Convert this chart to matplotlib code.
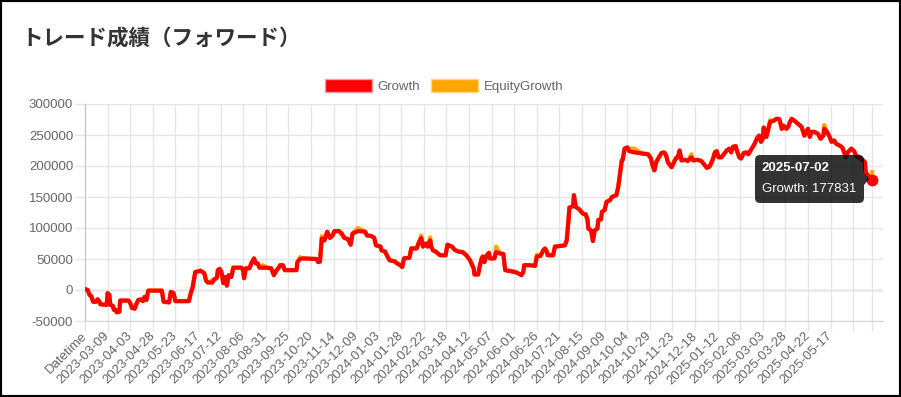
import pandas as pd
import matplotlib.pyplot as plt
from matplotlib.patches import Patch, FancyBboxPatch, Polygon, Rectangle

plt.rcParams['font.family'] = ['Liberation Sans', 'DejaVu Sans']

############## data ######################################
dates = [
    '2023-02-13', '2023-02-15', '2023-02-17', '2023-02-19', '2023-02-21', '2023-02-24', '2023-02-26', '2023-02-28', '2023-03-01', '2023-03-08',
    '2023-03-09', '2023-03-11', '2023-03-12', '2023-03-15', '2023-03-16', '2023-03-18', '2023-03-19', '2023-03-22', '2023-03-23', '2023-04-01',
    '2023-04-03', '2023-04-05', '2023-04-08', '2023-04-10', '2023-04-12', '2023-04-16', '2023-04-17', '2023-04-19', '2023-04-21', '2023-04-23',
    '2023-05-08', '2023-05-10', '2023-05-16', '2023-05-18', '2023-05-21', '2023-05-23', '2023-06-07', '2023-06-09', '2023-06-11', '2023-06-14',
    '2023-06-20', '2023-06-24', '2023-06-26', '2023-06-28', '2023-07-03', '2023-07-05', '2023-07-08', '2023-07-09', '2023-07-11', '2023-07-13',
    '2023-07-15', '2023-07-17', '2023-07-19', '2023-07-21', '2023-07-24', '2023-07-26', '2023-08-04', '2023-08-06', '2023-08-07', '2023-08-09',
    '2023-08-13', '2023-08-15', '2023-08-18', '2023-08-20', '2023-08-22', '2023-08-24', '2023-08-28', '2023-09-01', '2023-09-06', '2023-09-09',
    '2023-09-12', '2023-09-14', '2023-09-16', '2023-09-19', '2023-09-21', '2023-10-04', '2023-10-05', '2023-10-08', '2023-10-11', '2023-10-26',
    '2023-10-28', '2023-10-30', '2023-11-01', '2023-11-04', '2023-11-07', '2023-11-10', '2023-11-13', '2023-11-15', '2023-11-20', '2023-11-23',
    '2023-11-26', '2023-11-30', '2023-12-03', '2023-12-05', '2023-12-11', '2023-12-19', '2023-12-21', '2023-12-26', '2023-12-29', '2023-12-31',
    '2024-01-05', '2024-01-06', '2024-01-10', '2024-01-12', '2024-01-15', '2024-01-21', '2024-01-23', '2024-01-27', '2024-01-29', '2024-01-31',
    '2024-02-06', '2024-02-08', '2024-02-14', '2024-02-16', '2024-02-17', '2024-02-19', '2024-02-21', '2024-02-24', '2024-02-26', '2024-02-29',
    '2024-03-01', '2024-03-03', '2024-03-06', '2024-03-11', '2024-03-17', '2024-03-19', '2024-03-24', '2024-03-27', '2024-03-31', '2024-04-05',
    '2024-04-09', '2024-04-13', '2024-04-17', '2024-04-18', '2024-04-22', '2024-04-24', '2024-04-26', '2024-04-27', '2024-04-29', '2024-05-01',
    '2024-05-04', '2024-05-05', '2024-05-10', '2024-05-12', '2024-05-16', '2024-05-20', '2024-05-21', '2024-05-22', '2024-06-02', '2024-06-05',
    '2024-06-09', '2024-06-11', '2024-06-12', '2024-06-18', '2024-06-24', '2024-06-26', '2024-06-30', '2024-07-03', '2024-07-05', '2024-07-07',
    '2024-07-08', '2024-07-14', '2024-07-16', '2024-07-27', '2024-07-29', '2024-07-31', '2024-08-01', '2024-08-05', '2024-08-06', '2024-08-08',
    '2024-08-11', '2024-08-12', '2024-08-16', '2024-08-19', '2024-08-21', '2024-08-22', '2024-08-25', '2024-08-27', '2024-08-29', '2024-09-01',
    '2024-09-02', '2024-09-05', '2024-09-06', '2024-09-09', '2024-09-11', '2024-09-15', '2024-09-17', '2024-09-22', '2024-09-24', '2024-09-26',
    '2024-09-28', '2024-09-29', '2024-10-01', '2024-10-04', '2024-10-06', '2024-10-12', '2024-10-21', '2024-10-27', '2024-10-30', '2024-11-01',
    '2024-11-03', '2024-11-05', '2024-11-08', '2024-11-11', '2024-11-14', '2024-11-16', '2024-11-18', '2024-11-22', '2024-11-24', '2024-11-27',
    '2024-11-29', '2024-12-01', '2024-12-03', '2024-12-07', '2024-12-10', '2024-12-14', '2024-12-16', '2024-12-21', '2024-12-25', '2024-12-29',
    '2024-12-31', '2025-01-03', '2025-01-05', '2025-01-07', '2025-01-09', '2025-01-11', '2025-01-13', '2025-01-16', '2025-01-19', '2025-01-22',
    '2025-01-25', '2025-01-27', '2025-01-29', '2025-02-01', '2025-02-02', '2025-02-05', '2025-02-07', '2025-02-10', '2025-02-13', '2025-02-15',
    '2025-02-20', '2025-02-22', '2025-02-25', '2025-02-27', '2025-03-01', '2025-03-03', '2025-03-04', '2025-03-05', '2025-03-07', '2025-03-09',
    '2025-03-11', '2025-03-15', '2025-03-18', '2025-03-21', '2025-03-22', '2025-03-24', '2025-03-26', '2025-03-29', '2025-03-31', '2025-04-02',
    '2025-04-04', '2025-04-07', '2025-04-11', '2025-04-15', '2025-04-18', '2025-04-20', '2025-04-22', '2025-04-24', '2025-04-26', '2025-04-29',
    '2025-05-03', '2025-05-06', '2025-05-09', '2025-05-10', '2025-05-13', '2025-05-16', '2025-05-18', '2025-05-21', '2025-05-23', '2025-05-27',
    '2025-05-30', '2025-06-01', '2025-06-03', '2025-06-05', '2025-06-09', '2025-06-12', '2025-06-14', '2025-06-22', '2025-06-24', '2025-06-25',
    '2025-06-27', '2025-07-01', '2025-07-02',
]

growth = [
    1000, 0, -8000, -10000, -19000, -19000, -15000, -19000, -23000, -24000,
    -5000, -8000, -24000, -26000, -32000, -32000, -36000, -35000, -17000, -17000,
    -21000, -29000, -30000, -22000, -16000, -15000, -18000, -11000, -16000, -1000,
    -1000, -19000, -20000, -3000, -5000, -18000, -18000, -5000, 3000, 29000,
    31000, 27000, 15000, 12000, 12000, 17000, 20000, 32000, 34000, 29000,
    11000, 21000, 7000, 24000, 21000, 36000, 36000, 32000, 19000, 35000,
    35000, 43000, 51000, 43000, 43000, 36000, 36000, 36000, 35000, 24000,
    32000, 35000, 40000, 40000, 32000, 32000, 45000, 50000, 51000, 50000,
    45000, 46000, 83000, 80000, 94000, 84000, 88000, 95000, 95000, 91000,
    84000, 82000, 73000, 91000, 95000, 94000, 88000, 87000, 84000, 72000,
    70000, 64000, 62000, 56000, 48000, 46000, 43000, 40000, 37000, 51000,
    52000, 67000, 67000, 75000, 78000, 84000, 70000, 75000, 70000, 80000,
    70000, 64000, 62000, 56000, 56000, 73000, 70000, 65000, 62000, 61000,
    56000, 48000, 35000, 25000, 25000, 40000, 51000, 54000, 45000, 55000,
    60000, 51000, 51000, 61000, 59000, 58000, 43000, 32000, 29000, 27000,
    24000, 29000, 40000, 40000, 39000, 54000, 55000, 64000, 67000, 62000,
    56000, 56000, 70000, 72000, 80000, 113000, 133000, 135000, 153000, 134000,
    131000, 130000, 123000, 122000, 114000, 99000, 96000, 79000, 96000, 99000,
    113000, 114000, 126000, 129000, 142000, 145000, 150000, 153000, 166000, 188000,
    209000, 210000, 228000, 230000, 224000, 222000, 220000, 219000, 213000, 201000,
    193000, 206000, 214000, 221000, 222000, 217000, 206000, 198000, 204000, 213000,
    214000, 225000, 209000, 210000, 208000, 214000, 209000, 210000, 208000, 201000,
    197000, 199000, 205000, 212000, 222000, 224000, 214000, 214000, 219000, 225000,
    228000, 222000, 231000, 232000, 226000, 214000, 212000, 221000, 222000, 219000,
    231000, 236000, 246000, 249000, 239000, 244000, 262000, 253000, 247000, 259000,
    271000, 273000, 276000, 276000, 272000, 260000, 265000, 260000, 263000, 271000,
    276000, 273000, 268000, 263000, 249000, 255000, 260000, 247000, 255000, 255000,
    252000, 244000, 249000, 260000, 255000, 247000, 239000, 241000, 236000, 233000,
    230000, 222000, 214000, 222000, 228000, 224000, 217000, 209000, 206000, 190000,
    185000, 180000, 177831,
]

equity = [
    1000, 0, -8000, -10000, -19000, -19000, -15000, -19000, -23000, -24000,
    -5000, -8000, -24000, -26000, -32000, -32000, -36000, -35000, -17000, -17000,
    -21000, -29000, -30000, -22000, -16000, -15000, -18000, -11000, -16000, -1000,
    -1000, -19000, -20000, -3000, -5000, -18000, -18000, -5000, 6000, 29000,
    31000, 27000, 15000, 12000, 16000, 17000, 20000, 32000, 34000, 29000,
    11000, 21000, 7000, 24000, 21000, 36000, 36000, 32000, 19000, 35000,
    35000, 43000, 51000, 43000, 43000, 36000, 40000, 36000, 35000, 24000,
    32000, 35000, 40000, 40000, 32000, 32000, 45000, 53000, 51000, 50000,
    45000, 46000, 87000, 80000, 94000, 84000, 88000, 95000, 95000, 91000,
    84000, 82000, 73000, 91000, 100000, 94000, 88000, 87000, 84000, 72000,
    70000, 64000, 62000, 56000, 48000, 46000, 43000, 40000, 37000, 51000,
    52000, 67000, 67000, 75000, 78000, 88000, 70000, 75000, 70000, 85000,
    70000, 64000, 62000, 56000, 56000, 73000, 70000, 65000, 62000, 61000,
    56000, 48000, 35000, 25000, 25000, 40000, 51000, 54000, 45000, 55000,
    60000, 51000, 51000, 70000, 59000, 58000, 43000, 32000, 29000, 27000,
    24000, 29000, 40000, 40000, 39000, 57000, 55000, 64000, 67000, 62000,
    56000, 56000, 70000, 72000, 80000, 113000, 133000, 135000, 153000, 134000,
    131000, 130000, 123000, 122000, 114000, 99000, 96000, 79000, 96000, 99000,
    113000, 114000, 126000, 129000, 142000, 145000, 150000, 153000, 166000, 188000,
    209000, 210000, 228000, 230000, 228000, 228000, 220000, 219000, 213000, 201000,
    193000, 206000, 214000, 221000, 222000, 217000, 206000, 198000, 204000, 213000,
    214000, 225000, 209000, 210000, 208000, 219000, 209000, 210000, 208000, 201000,
    197000, 199000, 205000, 212000, 222000, 224000, 214000, 214000, 219000, 225000,
    228000, 222000, 231000, 232000, 226000, 214000, 212000, 221000, 222000, 219000,
    231000, 236000, 246000, 249000, 239000, 244000, 262000, 253000, 247000, 259000,
    274000, 273000, 276000, 276000, 272000, 260000, 265000, 260000, 263000, 271000,
    276000, 273000, 268000, 263000, 249000, 255000, 260000, 247000, 255000, 255000,
    252000, 244000, 249000, 266000, 255000, 247000, 239000, 241000, 236000, 233000,
    230000, 222000, 214000, 222000, 228000, 224000, 217000, 209000, 206000, 190000,
    185000, 180000, 190000,
]

tick_labels = ['Datetime', '2023-03-09', '2023-04-03', '2023-04-28', '2023-05-23', '2023-06-17',
               '2023-07-12', '2023-08-06', '2023-08-31', '2023-09-25', '2023-10-20', '2023-11-14',
               '2023-12-09', '2024-01-03', '2024-01-28', '2024-02-22', '2024-03-18', '2024-04-12',
               '2024-05-07', '2024-06-01', '2024-06-26', '2024-07-21', '2024-08-15', '2024-09-09',
               '2024-10-04', '2024-10-29', '2024-11-23', '2024-12-18', '2025-01-12', '2025-02-06',
               '2025-03-03', '2025-03-28', '2025-04-22', '2025-05-17']
hidden_ticks = ['2025-06-11', '2025-07-02']
y_ticks = [-50000, 0, 50000, 100000, 150000, 200000, 250000, 300000]
#########################################################

# category axis: the header cell, then one slot per calendar day
categories = ['Datetime'] + list(pd.date_range('2023-02-13', '2025-07-02').strftime('%Y-%m-%d'))
pos = {c: i for i, c in enumerate(categories)}
x = [pos[d] for d in dates]

W, H = 901, 397
fig = plt.figure(figsize=(W / 100, H / 100), dpi=100)
ax = fig.add_axes([85 / W, 1 - 321 / H, (883 - 85) / W, (321 - 104) / H])

ax.plot(x, equity, color='#ffa500', lw=3.0, solid_joinstyle='round', zorder=3)
ax.plot(x, growth, color='#ff0000', lw=3.0, solid_joinstyle='round', zorder=4)
ax.plot(x[-1], growth[-1], 'o', color='#ff0000', ms=7.5, zorder=5)

ax.set_xlim(0, 883)
ax.set_ylim(y_ticks[0], y_ticks[-1])
ax.set_yticks(y_ticks)
ax.set_yticklabels([str(v) for v in y_ticks])
ax.set_xticks([pos[t] for t in tick_labels])
ax.set_xticklabels(tick_labels, rotation=45, ha='right', va='center', rotation_mode='anchor')
ax.set_xticks([pos[t] for t in hidden_ticks], minor=True)

ax.grid(True, which='both', color='#e6e6e6', lw=1, zorder=0)
ax.axhline(0, color='#c4c4c4', lw=1, zorder=1)
ax.tick_params(axis='both', which='both', length=7, width=1, color='#e6e6e6',
               labelcolor='#666666', labelsize=9.5)
ax.tick_params(axis='x', pad=2.5)
ax.tick_params(axis='y', pad=1.5)
for s in ['top', 'right']:
    ax.spines[s].set_visible(False)
ax.spines['left'].set_color('#c4c4c4')
ax.spines['bottom'].set_color('#d4d4d4')

# legend
handles = [Patch(facecolor='#ff0000', edgecolor='#ff9a9a', lw=1, label='Growth'),
           Patch(facecolor='#ffa500', edgecolor='#ffd58a', lw=1, label='EquityGrowth')]
ax.legend(handles=handles, loc='center', bbox_to_anchor=(444 / W, 1 - 86 / H),
          bbox_transform=fig.transFigure, ncol=2, frameon=False, fontsize=9.5,
          handlelength=3.6, handleheight=1.2, handletextpad=0.4, columnspacing=0.8,
          labelcolor='#666666', borderpad=0, borderaxespad=0)

# title
fig.text(21 / W, 1 - 38 / H, 'トレード成績（フォワード）', fontsize=15.5, fontweight='bold',
         color='#333333', family=['Noto Sans CJK JP', 'DejaVu Sans'], ha='left', va='center')

# hover tooltip on the last point (pixel coords)
tip = FancyBboxPatch((755, H - 203), 109, 48, boxstyle='round,pad=0,rounding_size=5',
                     transform=None, fc=(0, 0, 0, 0.8), ec='none', zorder=10)
fig.add_artist(tip)
fig.add_artist(Polygon([(864, H - 173), (869, H - 179), (864, H - 185)], closed=True,
                       transform=None, fc=(0, 0, 0, 0.8), ec='none', zorder=10))
fig.text(762 / W, 1 - 168 / H, dates[-1], color='white', fontsize=9.5, fontweight='bold',
         ha='left', va='center', zorder=11)
fig.text(762 / W, 1 - 188.5 / H, 'Growth: %d' % growth[-1], color='white', fontsize=9.5,
         ha='left', va='center', zorder=11)

# outer border
fig.add_artist(Rectangle((0, 0), 1, 1, transform=fig.transFigure, fill=False, ec='black', lw=3))

plt.savefig('out.png', dpi=100)
